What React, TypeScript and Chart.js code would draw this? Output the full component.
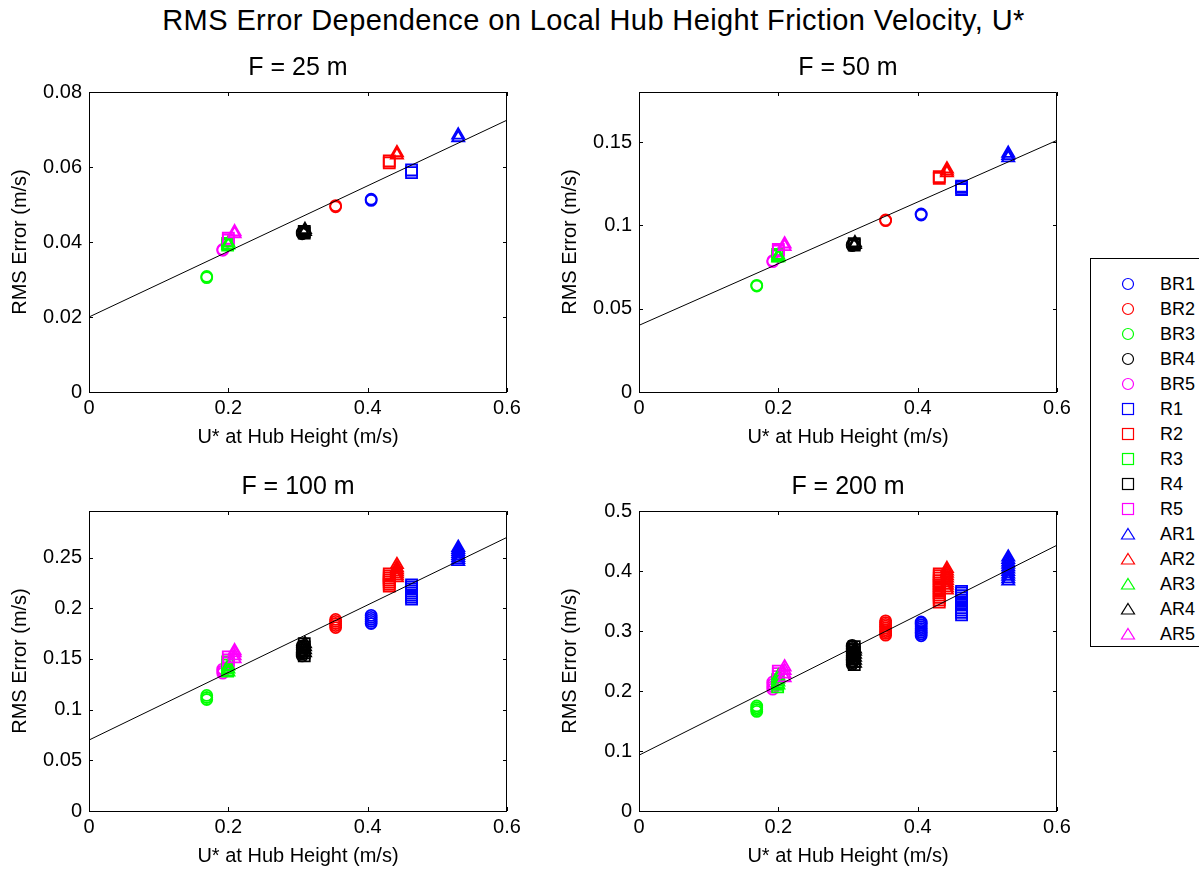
import React, { useEffect, useRef } from "react";
import { Chart, registerables } from "chart.js";
Chart.register(...registerables);

// ---------------- data ----------------
const seriesNames = ["BR1", "BR2", "BR3", "BR4", "BR5", "R1", "R2", "R3", "R4", "R5", "AR1", "AR2", "AR3", "AR4", "AR5"];
const seriesColors = [
  "#0000ff", "#ff0000", "#00ff00", "#000000", "#ff00ff",
  "#0000ff", "#ff0000", "#00ff00", "#000000", "#ff00ff",
  "#0000ff", "#ff0000", "#00ff00", "#000000", "#ff00ff",
];
const seriesShapes = [
  "circle", "circle", "circle", "circle", "circle",
  "rect", "rect", "rect", "rect", "rect",
  "triangle", "triangle", "triangle", "triangle", "triangle",
];
// U* at hub height for each series
const hubUstar = [0.405, 0.354, 0.169, 0.306, 0.192, 0.463, 0.431, 0.199, 0.309, 0.2, 0.53, 0.442, 0.2, 0.31, 0.209];

// RMS error values for each series (F = 25 m)
const rmsF25 = [
  [0.0511, 0.0514],
  [0.0494, 0.0497],
  [0.0305, 0.0308],
  [0.0422, 0.0426],
  [0.0378, 0.038],
  [0.0585, 0.0592],
  [0.0611, 0.0616],
  [0.0392, 0.0396],
  [0.0424, 0.0428],
  [0.0405, 0.041],
  [0.0678, 0.0685],
  [0.0632, 0.0638],
  [0.0392, 0.0398],
  [0.0428, 0.0433],
  [0.0422, 0.0427],
];
// F = 50 m
const rmsF50 = [
  [0.1062, 0.1068],
  [0.1028, 0.1032],
  [0.0636, 0.064],
  [0.0878, 0.0885],
  [0.0782, 0.0788],
  [0.1215, 0.1228, 0.1235],
  [0.1282, 0.1292],
  [0.0815, 0.0825],
  [0.0882, 0.089],
  [0.0845, 0.0855],
  [0.1405, 0.1418, 0.1432],
  [0.1315, 0.1325, 0.1338],
  [0.0805, 0.082],
  [0.0885, 0.0895],
  [0.0872, 0.0888],
];
// F = 100 m
const rmsF100 = [
  [0.185, 0.187, 0.189, 0.191, 0.193],
  [0.181, 0.183, 0.185, 0.187, 0.189],
  [0.11, 0.112, 0.114],
  [0.153, 0.155, 0.157, 0.159, 0.161, 0.163],
  [0.136, 0.138, 0.14],
  [0.209, 0.211, 0.213, 0.215, 0.217, 0.219, 0.221, 0.223],
  [0.222, 0.224, 0.226, 0.228, 0.23, 0.232, 0.234],
  [0.138, 0.141, 0.144, 0.147],
  [0.153, 0.156, 0.159, 0.162, 0.165],
  [0.146, 0.149, 0.152],
  [0.246, 0.248, 0.25, 0.252, 0.254, 0.256, 0.258, 0.26],
  [0.23, 0.232, 0.234, 0.236, 0.238, 0.24, 0.243],
  [0.137, 0.14, 0.143],
  [0.156, 0.159, 0.162, 0.165],
  [0.15, 0.153, 0.156, 0.158],
];
// F = 200 m
const rmsF200 = [
  [0.292, 0.295, 0.298, 0.301, 0.304, 0.307, 0.31, 0.313, 0.315],
  [0.293, 0.296, 0.299, 0.302, 0.305, 0.308, 0.311, 0.314, 0.317],
  [0.166, 0.169, 0.172, 0.175],
  [0.244, 0.247, 0.25, 0.253, 0.256, 0.259, 0.262, 0.265, 0.268, 0.271, 0.274, 0.276],
  [0.203, 0.207, 0.211, 0.215],
  [0.327, 0.331, 0.335, 0.339, 0.343, 0.347, 0.351, 0.355, 0.359, 0.363, 0.366],
  [0.348, 0.352, 0.356, 0.36, 0.364, 0.368, 0.372, 0.376, 0.38, 0.384, 0.388, 0.392, 0.395],
  [0.207, 0.211, 0.215, 0.219],
  [0.244, 0.249, 0.254, 0.259, 0.264, 0.269, 0.274],
  [0.219, 0.224, 0.229, 0.233],
  [0.383, 0.387, 0.391, 0.395, 0.399, 0.403, 0.407, 0.411, 0.415, 0.419, 0.423],
  [0.368, 0.372, 0.376, 0.38, 0.384, 0.388, 0.392, 0.396, 0.4, 0.404],
  [0.21, 0.215, 0.22, 0.225],
  [0.246, 0.251, 0.256, 0.261, 0.266, 0.27],
  [0.222, 0.228, 0.234, 0.24],
];

// fit line end values at U* = 0 and U* = 0.6
const fitF25 = [0.02, 0.0725];
const fitF50 = [0.04, 0.151];
const fitF100 = [0.07, 0.27];
const fitF200 = [0.093, 0.443];

const panelTitles = ["F = 25 m", "F = 50 m", "F = 100 m", "F = 200 m"];
const xTicks = [0, 0.2, 0.4, 0.6];
const yTicksF25 = [0, 0.02, 0.04, 0.06, 0.08];
const yTicksF50 = [0, 0.05, 0.1, 0.15];
const yTicksF100 = [0, 0.05, 0.1, 0.15, 0.2, 0.25];
const yTicksF200 = [0, 0.1, 0.2, 0.3, 0.4, 0.5];
const yMaxes = [0.08, 0.18, 0.296, 0.5];

const panelRms = [rmsF25, rmsF50, rmsF100, rmsF200];
const panelFits = [fitF25, fitF50, fitF100, fitF200];
const panelYTicks = [yTicksF25, yTicksF50, yTicksF100, yTicksF200];

const mainTitle = "RMS Error Dependence on Local Hub Height Friction Velocity, U*";
const xLabel = "U* at Hub Height (m/s)";
const yLabel = "RMS Error (m/s)";

// ---------------- styling ----------------
const FONT = "'Liberation Sans', Arial, sans-serif";
const shapeRadius: Record<string, number> = { circle: 5.5, rect: 7.8, triangle: 7 };
const fmt = (v: any) => String(Number(Number(v).toFixed(4)));

const boxPlugin = {
  id: "matlabBox",
  afterDraw(chart: any) {
    const { ctx, chartArea: a, scales } = chart;
    const tl = 4;
    ctx.save();
    ctx.strokeStyle = "#000";
    ctx.lineWidth = 1;
    ctx.beginPath();
    ctx.rect(a.left + 0.5, a.top + 0.5, a.right - a.left - 1, a.bottom - a.top);
    for (const t of scales.x.ticks) {
      const px = Math.round(scales.x.getPixelForValue(t.value)) + 0.5;
      ctx.moveTo(px, a.bottom);
      ctx.lineTo(px, a.bottom - tl);
      ctx.moveTo(px, a.top);
      ctx.lineTo(px, a.top + tl);
    }
    for (const t of scales.y.ticks) {
      const py = Math.round(scales.y.getPixelForValue(t.value)) + 0.5;
      ctx.moveTo(a.left, py);
      ctx.lineTo(a.left + tl, py);
      ctx.moveTo(a.right, py);
      ctx.lineTo(a.right - tl, py);
    }
    ctx.stroke();
    ctx.restore();
  },
};

function Panel({ idx, left, top }: { idx: number; left: number; top: number }) {
  const ref = useRef<HTMLCanvasElement>(null);
  useEffect(() => {
    const datasets: any[] = [];
    datasets.push({
      type: "line",
      data: [
        { x: 0, y: panelFits[idx][0] },
        { x: 0.6, y: panelFits[idx][1] },
      ],
      borderColor: "#000",
      borderWidth: 1,
      pointRadius: 0,
      order: 0,
    });
    seriesNames.forEach((name, i) => {
      datasets.push({
        type: "scatter",
        label: name,
        data: panelRms[idx][i].map((v) => ({ x: hubUstar[i], y: v })),
        pointStyle: seriesShapes[i],
        pointRadius: shapeRadius[seriesShapes[i]],
        borderColor: seriesColors[i],
        backgroundColor: "rgba(0,0,0,0)",
        pointBorderWidth: 1.8,
        order: 100 - i,
      });
    });
    const chart = new Chart(ref.current as HTMLCanvasElement, {
      type: "scatter",
      data: { datasets },
      plugins: [boxPlugin],
      options: {
        responsive: false,
        animation: false,
        devicePixelRatio: 1,
        events: [],
        layout: { padding: { left: 0, right: 33, top: 0, bottom: 0 } },
        plugins: {
          legend: { display: false },
          tooltip: { enabled: false },
          title: {
            display: true,
            fullSize: false,
            text: panelTitles[idx],
            color: "#000",
            font: { family: FONT, size: 25, weight: "normal", lineHeight: 1.2 },
            padding: { top: 3, bottom: 9 },
          },
        },
        scales: {
          x: {
            type: "linear",
            min: 0,
            max: 0.6,
            afterBuildTicks: (s: any) => {
              s.ticks = xTicks.map((v) => ({ value: v }));
            },
            afterFit: (s: any) => {
              s.height = 78;
            },
            grid: { display: false, drawTicks: false },
            border: { display: false },
            ticks: {
              color: "#000",
              font: { family: FONT, size: 20, lineHeight: 1.2 },
              padding: 4,
              maxRotation: 0,
              autoSkip: false,
              callback: fmt,
            },
            title: {
              display: true,
              text: xLabel,
              color: "#000",
              font: { family: FONT, size: 20, lineHeight: 1.2 },
              padding: { top: 0, bottom: 21 },
            },
          },
          y: {
            type: "linear",
            min: 0,
            max: yMaxes[idx],
            afterBuildTicks: (s: any) => {
              s.ticks = panelYTicks[idx].map((v) => ({ value: v }));
            },
            afterFit: (s: any) => {
              s.width = 89;
            },
            grid: { display: false, drawTicks: false },
            border: { display: false },
            ticks: {
              color: "#000",
              font: { family: FONT, size: 20, lineHeight: 1.2 },
              padding: 7,
              autoSkip: false,
              callback: fmt,
            },
            title: {
              display: true,
              text: yLabel,
              color: "#000",
              font: { family: FONT, size: 20, lineHeight: 1.2 },
              padding: { top: 8, bottom: 0 },
            },
          },
        },
      } as any,
    });
    return () => chart.destroy();
  }, [idx]);
  return (
    <canvas
      ref={ref}
      width={540}
      height={420}
      style={{ position: "absolute", left, top, width: 540, height: 420 }}
    />
  );
}

function LegendMarker({ shape, color }: { shape: string; color: string }) {
  return (
    <svg width={18} height={18} style={{ position: "absolute", left: -9, top: -9 }}>
      {shape === "circle" && <circle cx={9} cy={9} r={5.5} fill="none" stroke={color} strokeWidth={1.2} />}
      {shape === "rect" && <rect x={3.5} y={3.5} width={11} height={11} fill="none" stroke={color} strokeWidth={1.2} />}
      {shape === "triangle" && <polygon points="9,3.5 15.5,14 2.5,14" fill="none" stroke={color} strokeWidth={1.2} />}
    </svg>
  );
}

function Legend() {
  return (
    <div
      style={{
        position: "absolute",
        left: 1090,
        top: 258,
        width: 120,
        height: 389,
        border: "1px solid #000",
        background: "#fff",
        boxSizing: "border-box",
      }}
    >
      {seriesNames.map((name, i) => (
        <div key={name}>
          <div style={{ position: "absolute", left: 1128 - 1091, top: 284 - 259 + i * 25 }}>
            <LegendMarker shape={seriesShapes[i]} color={seriesColors[i]} />
          </div>
          <div
            style={{
              position: "absolute",
              left: 1160 - 1091,
              top: 284 - 259 + i * 25 - 11,
              height: 22,
              lineHeight: "22px",
              fontFamily: FONT,
              fontSize: 18,
              color: "#000",
              whiteSpace: "nowrap",
            }}
          >
            {name}
          </div>
        </div>
      ))}
    </div>
  );
}

export default function App() {
  return (
    <div
      style={{
        position: "absolute",
        left: 0,
        top: 0,
        width: 1199,
        height: 871,
        overflow: "hidden",
        background: "#fff",
      }}
    >
      <div
        style={{
          position: "absolute",
          left: 0,
          top: 4,
          width: 1187,
          textAlign: "center",
          fontFamily: FONT,
          fontSize: 29,
          letterSpacing: 0.4,
          lineHeight: "32px",
          color: "#000",
          whiteSpace: "nowrap",
        }}
      >
        {mainTitle}
      </div>
      <Panel idx={0} left={0} top={50} />
      <Panel idx={1} left={550} top={50} />
      <Panel idx={2} left={0} top={469} />
      <Panel idx={3} left={550} top={469} />
      <Legend />
    </div>
  );
}
